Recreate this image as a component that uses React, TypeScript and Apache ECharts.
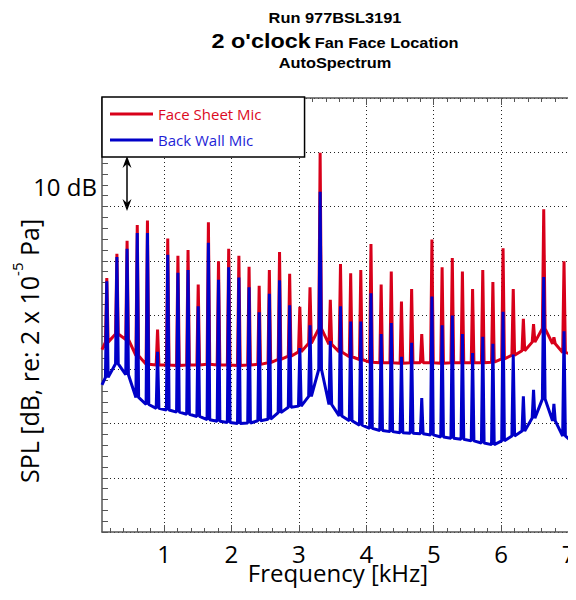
import React, { useEffect, useRef } from "react";
import * as echarts from "echarts";

// Harmonic (blade-pass) frequencies in kHz
const peakFreqs = [
  0.151, 0.301, 0.452, 0.603, 0.754, 0.904, 1.055, 1.206, 1.356, 1.507,
  1.658, 1.808, 1.959, 2.11, 2.261, 2.411, 2.562, 2.713, 2.863, 3.014,
  3.165, 3.315, 3.466, 3.617, 3.768, 3.918, 4.069, 4.22, 4.37, 4.521,
  4.672, 4.822, 4.973, 5.124, 5.275, 5.425, 5.576, 5.727, 5.877, 6.028,
  6.179, 6.329, 6.48, 6.631, 6.782, 6.932, 7.083,
];

// Peak levels (dB, relative scale) at each harmonic
const faceSheetPeaks = [
  46.8, 51.3, 53.7, 56.6, 57.4, 37.3, 54.1, 50.9, 52.0, 45.6,
  57.1, 49.9, 52.2, 50.9, 48.9, 45.4, 48.3, 51.6, 47.6, 41.5,
  45.1, 69.9, 42.8, 49.4, 47.7, 48.3, 53.1, 45.6, 48.0, 42.5,
  44.8, 36.5, 53.9, 48.8, 50.5, 48.0, 44.8, 48.3, 46.1, 52.3,
  44.8, 39.3, 38.3, 59.5, 35.9, 49.9, 44.1,
];
const backWallPeaks = [
  46.2, 50.7, 52.2, 55.1, 55.1, 33.2, 51.1, 47.8, 48.3, 41.6,
  53.3, 46.5, 48.8, 46.9, 45.1, 40.5, 43.9, 46.4, 41.8, 33.9,
  38.1, 62.7, 35.2, 41.6, 38.8, 38.8, 44.0, 36.5, 38.5, 32.3,
  34.9, 24.7, 43.4, 38.1, 39.9, 36.5, 33.0, 36.0, 34.7, 40.6,
  32.7, 25.0, 26.2, 47.0, 23.6, 37.0, 29.9,
];

// Broadband floor level at the foot of each harmonic (dB)
const faceSheetStart = 33.6;
const faceSheetFloor = [
  35.0, 36.5, 35.5, 32.5, 30.9, 30.8, 30.8, 30.7, 30.8, 30.8,
  30.9, 30.8, 30.8, 30.7, 30.8, 30.9, 31.2, 31.8, 32.4, 33.2,
  34.8, 37.5, 34.6, 33.2, 32.3, 31.8, 31.3, 31.2, 31.2, 31.1,
  31.2, 31.2, 31.2, 31.1, 31.2, 31.2, 31.2, 31.2, 31.3, 31.9,
  32.6, 33.4, 35.0, 37.5, 34.7, 33.1, 32.7,
];
const backWallStart = 27.1;
const backWallFloor = [
  28.5, 31.0, 29.0, 24.8, 23.5, 22.8, 22.5, 22.1, 21.7, 21.3,
  20.7, 20.4, 20.2, 20.0, 20.1, 20.5, 20.8, 22.0, 23.0, 23.2,
  25.0, 30.0, 23.5, 21.4, 20.5, 19.7, 19.1, 18.7, 18.5, 18.3,
  18.2, 18.1, 17.9, 17.5, 17.3, 17.1, 16.8, 16.4, 16.1, 16.8,
  17.7, 18.6, 21.0, 24.5, 20.5, 17.7, 16.5,
];

const xMajorTicks = [1, 2, 3, 4, 5, 6, 7];
const xMinorTicks = Array.from({ length: 35 }, (_, i) => Math.round((i + 1) * 2) / 10);

const X_MIN = 0.08;
const X_MAX = 7.08;
const FOOT = 0.02;

const RED = "#d8001a";
const BLUE = "#0000c8";
const FONT = "'Open Sans', sans-serif";
const TITLE_FONT = "'Liberation Sans', Arial, sans-serif";

function buildSpectrum(start: number, peaks: number[], floor: number[]) {
  const pts: number[][] = [[X_MIN, start]];
  for (let i = 0; i < peakFreqs.length; i++) {
    const f = peakFreqs[i];
    pts.push([f - FOOT, floor[i]]);
    pts.push([f, peaks[i]]);
    pts.push([f + FOOT, floor[i]]);
  }
  return pts;
}

export default function App() {
  const ref = useRef<HTMLDivElement>(null);

  useEffect(() => {
    if (!ref.current) return;
    const chart = echarts.init(ref.current, undefined, { renderer: "svg" });
    const axisColor = "#555";
    const gridCommon = { left: 102, right: 2, top: 98, bottom: 68, show: false, outerBoundsMode: "none" };
    const dotted = { color: "#222", type: [1, 3], width: 1 };

    const option: any = {
      animation: false,
      backgroundColor: "#fff",
      textStyle: { fontFamily: FONT },
      grid: [gridCommon, { ...gridCommon }],
      legend: {
        orient: "vertical",
        left: 102,
        top: 97,
        backgroundColor: "#fff",
        borderColor: "#000",
        borderWidth: 1.5,
        borderRadius: 0,
        padding: [9, 43, 9, 8],
        itemGap: 10,
        itemWidth: 43,
        itemHeight: 3,
        icon: "rect",
        selectedMode: false,
        z: 10,
        textStyle: { fontSize: 15, fontFamily: FONT, lineHeight: 16 },
        data: [
          { name: "Face Sheet Mic", textStyle: { color: "#dc0a1e" } },
          { name: "Back Wall Mic", textStyle: { color: "#1e1ed6" } },
        ],
      },
      xAxis: [
        {
          gridIndex: 0,
          type: "value",
          position: "bottom",
          min: X_MIN,
          max: X_MAX,
          axisLine: { show: true, onZero: false, lineStyle: { color: axisColor, width: 1.5 } },
          axisTick: { show: true, inside: true, length: 7, customValues: xMajorTicks, lineStyle: { color: axisColor } },
          axisLabel: { show: true, customValues: xMajorTicks, fontSize: 24, lineHeight: 20, color: "#000", margin: 11, fontFamily: FONT },
          splitLine: { show: true, lineStyle: dotted },
          name: "Frequency [kHz]",
          nameLocation: "middle",
          nameGap: 31.5,
          nameMoveOverlap: false,
          nameTextStyle: { fontSize: 24, lineHeight: 18, color: "#000", fontFamily: FONT },
        },
        {
          gridIndex: 0,
          type: "value",
          position: "top",
          min: X_MIN,
          max: X_MAX,
          axisLine: { show: true, onZero: false, lineStyle: { color: axisColor, width: 1.5 } },
          axisTick: { show: true, inside: true, length: 7, customValues: xMajorTicks, lineStyle: { color: axisColor } },
          axisLabel: { show: false },
          splitLine: { show: false },
        },
        {
          gridIndex: 1,
          type: "value",
          position: "bottom",
          min: X_MIN,
          max: X_MAX,
          axisLine: { show: false, onZero: false },
          axisTick: { show: true, inside: true, length: 4, customValues: xMinorTicks, lineStyle: { color: axisColor } },
          axisLabel: { show: false },
          splitLine: { show: false },
        },
        {
          gridIndex: 1,
          type: "value",
          position: "top",
          min: X_MIN,
          max: X_MAX,
          axisLine: { show: false, onZero: false },
          axisTick: { show: true, inside: true, length: 4, customValues: xMinorTicks, lineStyle: { color: axisColor } },
          axisLabel: { show: false },
          splitLine: { show: false },
        },
      ],
      yAxis: [
        {
          gridIndex: 0,
          type: "value",
          position: "left",
          min: 0,
          max: 80,
          interval: 10,
          axisLine: { show: true, onZero: false, lineStyle: { color: axisColor, width: 1.5 } },
          axisTick: { show: true, inside: true, length: 6, lineStyle: { color: axisColor } },
          minorTick: { show: true, splitNumber: 5, length: 6, lineStyle: { color: axisColor } },
          axisLabel: { show: false },
          splitLine: { show: true, lineStyle: dotted },
        },
        {
          gridIndex: 0,
          type: "value",
          position: "right",
          min: 0,
          max: 80,
          interval: 10,
          axisLine: { show: true, onZero: false, lineStyle: { color: axisColor, width: 1.5 } },
          axisTick: { show: true, inside: true, length: 6, lineStyle: { color: axisColor } },
          minorTick: { show: true, splitNumber: 5, length: 6, lineStyle: { color: axisColor } },
          axisLabel: { show: false },
          splitLine: { show: false },
        },
        { gridIndex: 1, type: "value", min: 0, max: 80, show: false },
      ],
      series: [
        {
          name: "Face Sheet Mic",
          type: "line",
          xAxisIndex: 0,
          yAxisIndex: 0,
          showSymbol: false,
          symbol: "none",
          color: RED,
          lineStyle: { color: RED, width: 3 },
          data: buildSpectrum(faceSheetStart, faceSheetPeaks, faceSheetFloor),
          clip: true,
          z: 2,
        },
        {
          name: "Back Wall Mic",
          type: "line",
          xAxisIndex: 0,
          yAxisIndex: 0,
          showSymbol: false,
          symbol: "none",
          color: BLUE,
          lineStyle: { color: BLUE, width: 3 },
          data: buildSpectrum(backWallStart, backWallPeaks, backWallFloor),
          clip: true,
          z: 3,
        },
      ],
      graphic: [
        {
          type: "group",
          x: 335,
          y: 0,
          scaleX: 1.17,
          children: [
            {
              type: "text",
              x: 0,
              y: 18,
              style: { text: "Run 977BSL3191", fontSize: 14, fontWeight: "bold", fontFamily: TITLE_FONT, fill: "#000", align: "center", verticalAlign: "middle" },
            },
            {
              type: "text",
              x: 0,
              y: 40,
              style: {
                text: "{a|2 o'clock} {b|Fan Face Location}",
                align: "center",
                verticalAlign: "middle",
                fill: "#000",
                rich: {
                  a: { fontSize: 20, fontWeight: "bold", fontFamily: TITLE_FONT, fill: "#000", verticalAlign: "bottom", lineHeight: 22 },
                  b: { fontSize: 14, fontWeight: "bold", fontFamily: TITLE_FONT, fill: "#000", verticalAlign: "bottom", lineHeight: 22, padding: [0, 0, 1, 0] },
                },
              },
            },
            {
              type: "text",
              x: 0,
              y: 63,
              style: { text: "AutoSpectrum", fontSize: 14, fontWeight: "bold", fontFamily: TITLE_FONT, fill: "#000", align: "center", verticalAlign: "middle" },
            },
          ],
        },
        {
          type: "text",
          x: 29,
          y: 351,
          rotation: Math.PI / 2,
          style: {
            text: "{a|SPL [dB, re: 2 x 10}{b|-5}{a| Pa]}",
            align: "center",
            verticalAlign: "middle",
            fill: "#000",
            rich: {
              a: { fontSize: 25, fontFamily: FONT, fill: "#000", lineHeight: 40 },
              b: { fontSize: 15, fontFamily: FONT, fill: "#000", verticalAlign: "top", lineHeight: 10 },
            },
          },
        },
        {
          type: "text",
          x: 97,
          y: 186,
          style: { text: "10 dB", fontSize: 24, fontFamily: FONT, fill: "#000", align: "right", verticalAlign: "middle" },
        },
        {
          type: "line",
          shape: { x1: 127, y1: 161, x2: 127, y2: 206 },
          style: { stroke: "#000", lineWidth: 1.5 },
        },
        {
          type: "polygon",
          shape: { points: [[127, 156], [122.5, 168], [127, 164], [131.5, 168]] },
          style: { fill: "#000" },
        },
        {
          type: "polygon",
          shape: { points: [[127, 211], [122.5, 199], [127, 203], [131.5, 199]] },
          style: { fill: "#000" },
        },
      ],
    };

    chart.setOption(option);
    return () => chart.dispose();
  }, []);

  return <div ref={ref} style={{ width: 576, height: 600, margin: -8 }} />;
}
